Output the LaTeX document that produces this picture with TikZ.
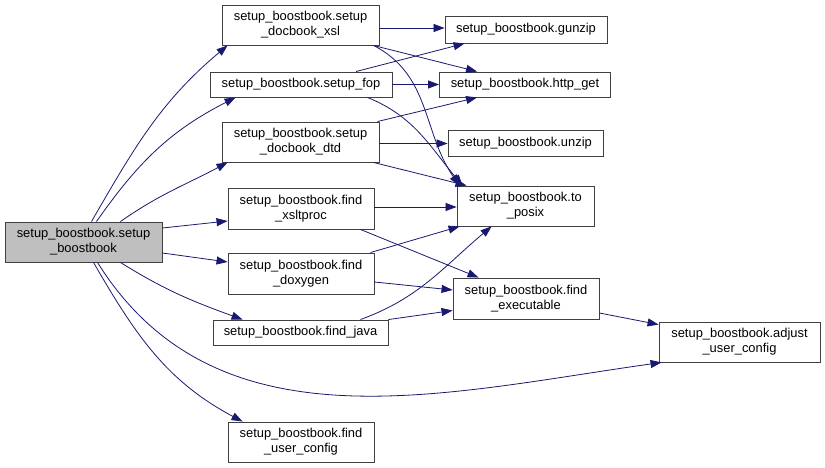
\documentclass[tikz,border=0pt]{standalone}
\usepackage{fontspec}
\setmainfont{Liberation Sans}
\usetikzlibrary{arrows.meta,calc}
\definecolor{edgeblue}{RGB}{25,25,112}
\definecolor{boxline}{RGB}{64,64,64}

\begin{document}
\begin{tikzpicture}[x=1pt,y=1pt,font=\fontsize{12.9}{15}\selectfont,
  fn/.style={draw=boxline,fill=white,line width=0.9pt,inner sep=0pt,align=center},
  root/.style={fn,fill=black!25},
  call/.style={-{Triangle[length=11pt,width=8pt]},draw=edgeblue,line width=0.8pt}]
\useasboundingbox (0,0) rectangle (825,-468);
\node[root,minimum width=157pt,minimum height=40pt] (main) at (83.5,-242) {setup\_boostbook.setup\\\_boostbook};
\node[fn,minimum width=157pt,minimum height=40pt] (xsl) at (300.5,-25) {setup\_boostbook.setup\\\_docbook\_xsl};
\node[fn,minimum width=182pt,minimum height=25pt] (fop) at (301,-84.5) {setup\_boostbook.setup\_fop};
\node[fn,minimum width=157pt,minimum height=40pt] (dtd) at (300.5,-142) {setup\_boostbook.setup\\\_docbook\_dtd};
\node[fn,minimum width=146pt,minimum height=41pt] (xslt) at (301,-208.5) {setup\_boostbook.find\\\_xsltproc};
\node[fn,minimum width=146pt,minimum height=41pt] (doxy) at (301,-273.5) {setup\_boostbook.find\\\_doxygen};
\node[fn,minimum width=175pt,minimum height=25pt] (java) at (300.5,-332.5) {setup\_boostbook.find\_java};
\node[fn,minimum width=146pt,minimum height=40pt] (ucfg) at (301,-442) {setup\_boostbook.find\\\_user\_config};
\node[fn,minimum width=162pt,minimum height=27pt] (gunzip) at (526,-29.5) {setup\_boostbook.gunzip};
\node[fn,minimum width=171pt,minimum height=25pt] (http) at (525,-84.5) {setup\_boostbook.http\_get};
\node[fn,minimum width=155pt,minimum height=26pt] (unzip) at (525.5,-143.5) {setup\_boostbook.unzip};
\node[fn,minimum width=137pt,minimum height=40pt] (posix) at (525.5,-206) {setup\_boostbook.to\\\_posix};
\node[fn,minimum width=146pt,minimum height=41pt] (exec) at (526,-298.5) {setup\_boostbook.find\\\_executable};
\node[fn,minimum width=161pt,minimum height=40pt] (adjust) at (739.5,-342) {setup\_boostbook.adjust\\\_user\_config};
\draw[call] ($(main.north)+(8,0)$) to[out=60,in=-140] ($(xsl.south west)+(6,0)$);
\draw[call] ($(main.north)+(13,0)$) to[out=55,in=-153] ($(fop.south west)+(26,0)$);
\draw[call] ($(main.north east)+(-42,0)$) to[out=35,in=-152] ($(dtd.south west)+(6,0)$);
\draw[call] ($(main.east)+(0,14)$) -- ($(xslt.west)+(0,-12.5)$);
\draw[call] ($(main.east)+(0,-11)$) -- ($(doxy.west)+(0,11.5)$);
\draw[call] ($(main.south east)+(-42,0)$) to[out=-32,in=160] ($(java.north west)+(30,0)$);
\draw[call] ($(main.south)+(14,0)$) to[out=-58,in=188] ($(adjust.south west)+(3,0)$);
\draw[call] ($(main.south)+(10,0)$) to[out=-60,in=152] ($(ucfg.north west)+(15,0)$);
\draw[call] ($(xsl.east)+(0,-3)$) -- ($(gunzip.west)+(0,1.5)$);
\draw[call] ($(xsl.south east)+(-6,0)$) -- ($(http.north west)+(38,0)$);
\draw[call] ($(xsl.south east)+(-6,0)$) to[out=-27,in=125] ($(posix.north west)+(3,0)$);
\draw[call] ($(fop.north)+(55,0)$) -- ($(gunzip.south west)+(20,0)$);
\draw[call] (fop.east) -- (http.west);
\draw[call] ($(fop.south east)+(-25,0)$) to[out=-22,in=130] ($(posix.north west)+(6,0)$);
\draw[call] ($(dtd.north east)+(-2,0)$) -- ($(http.south west)+(38,0)$);
\draw[call] ($(dtd.east)+(0,-1.5)$) -- (unzip.west);
\draw[call] ($(dtd.south east)+(-6,0)$) -- ($(posix.north west)+(10,0)$);
\draw[call] ($(xslt.east)+(0,1.5)$) -- ($(posix.west)+(0,-1)$);
\draw[call] ($(xslt.south east)+(-14,0)$) -- ($(exec.north west)+(26,0)$);
\draw[call] ($(doxy.north east)+(-4,0)$) -- ($(posix.south west)+(3,0)$);
\draw[call] ($(doxy.east)+(0,-8.5)$) -- ($(exec.west)+(0,8.5)$);
\draw[call] ($(java.north east)+(-28,0)$) to[out=20,in=-140] ($(posix.south west)+(35,0)$);
\draw[call] (java.north east) -- ($(exec.west)+(0,-12)$);
\draw[call] ($(exec.east)+(0,-14.5)$) -- ($(adjust.north west)+(0,-3)$);
\end{tikzpicture}
\end{document}
